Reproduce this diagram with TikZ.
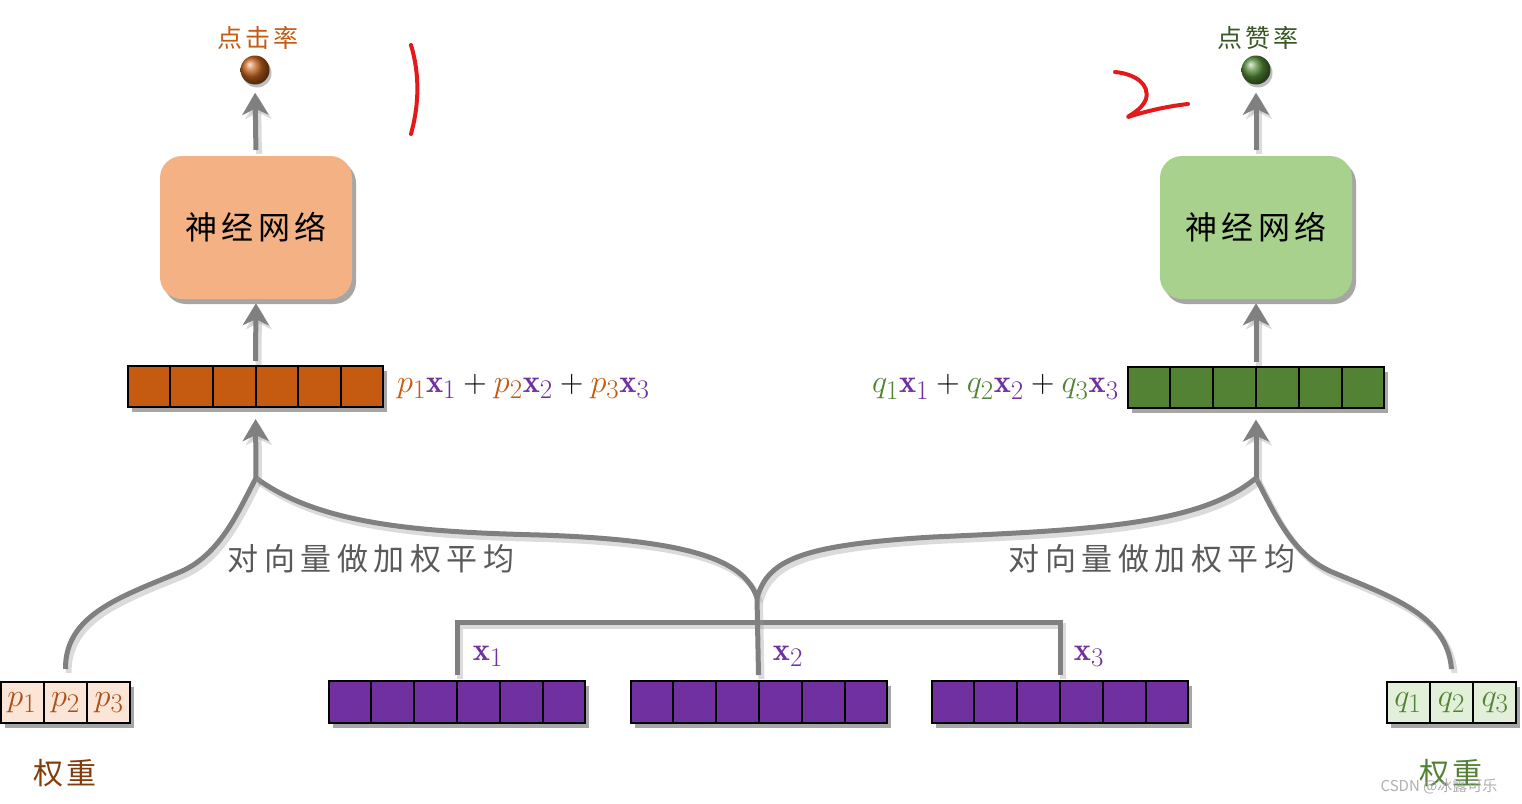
\RequirePackage{fix-cm}
\documentclass[tikz,border=0pt]{standalone}
\usepackage{graphicx}
\usepackage{fontspec}
\newfontfamily\cjk{Noto Sans CJK SC}
\usetikzlibrary{shadows,arrows.meta,calc}
\newcommand{\bigmath}[1]{\scalebox{1.3}{$#1$}}
\definecolor{orangevec}{HTML}{C55A11}
\definecolor{greenvec}{HTML}{548235}
\definecolor{purplevec}{HTML}{7030A0}
\definecolor{nnorange}{HTML}{F4B183}
\definecolor{nngreen}{HTML}{A9D18E}
\definecolor{linegray}{HTML}{808080}
\definecolor{textgray}{HTML}{595959}
\definecolor{pfill}{HTML}{FBE5D6}
\definecolor{qfill}{HTML}{E2F0D9}
\definecolor{pcol}{HTML}{C55A11}
\definecolor{pdark}{HTML}{A9501A}
\definecolor{wlabel}{HTML}{843C0C}
\definecolor{darkgreen}{HTML}{385723}
\definecolor{ballbrown}{HTML}{C2601C}
\definecolor{ballgreen}{HTML}{558A38}
\definecolor{redmark}{HTML}{E31A1C}
\definecolor{wmgray}{HTML}{A6A6A6}
\begin{document}
\begin{tikzpicture}[x=1pt,y=-1pt,
  lineshadow/.style={preaction={draw=black!40, opacity=.35, line width=6pt, transform canvas={xshift=3pt,yshift=-4pt}}},
  gline/.style={draw=linegray, line width=5pt, lineshadow},
  garrow/.style={gline, -{Stealth[length=22pt,width=26pt,inset=6pt]}},
  nnbox/.style={rounded corners=22pt, minimum width=192pt, minimum height=143pt, inner sep=0pt,
     drop shadow={shadow xshift=4pt, shadow yshift=-5pt, opacity=.35, fill=black}},
  vecbox/.style={draw=black, line width=2pt, minimum height=41pt, inner sep=0pt,
     drop shadow={shadow xshift=4pt, shadow yshift=-5pt, opacity=.35, fill=black}},
  ball/.style={circle, minimum size=29pt, inner sep=0pt, shade, shading=ball,
     drop shadow={shadow xshift=2pt, shadow yshift=-3pt, opacity=.25, fill=black}},
  cjklabel/.style={font=\cjk\fontsize{25}{30}\selectfont\addfontfeature{LetterSpace=12}},
  nntext/.style={font=\cjk\fontsize{32}{38}\selectfont\addfontfeature{LetterSpace=13}},
  avgtext/.style={font=\cjk\fontsize{31}{36}\selectfont\addfontfeature{LetterSpace=18}, text=textgray},
  wtext/.style={font=\cjk\fontsize{30}{36}\selectfont\addfontfeature{LetterSpace=13}},
  mathtext/.style={font=\fontsize{24.88}{30}\selectfont, inner sep=0pt},
  redline/.style={draw=redmark, line width=4pt, line cap=round, line join=round}
]
\useasboundingbox (0,0) rectangle (1522,803);

% outputs
\node[ball, ball color=ballbrown] (o1) at (255,70) {};
\node[ball, ball color=ballgreen] (o2) at (1256,70) {};
\node[cjklabel, text=pcol] (l1) at (258,38) {点击率};
\node[cjklabel, text=darkgreen] (l2) at (1258,38) {点赞率};

% neural nets
\node[nnbox, fill=nnorange, nntext] (nn1) at (256,227.5) {神经网络};
\node[nnbox, fill=nngreen, nntext] (nn2) at (1256,227.5) {神经网络};

% pooled vectors
\node[vecbox, fill=orangevec, minimum width=255pt] (v1) at (255.5,386.5) {};
\node[vecbox, fill=greenvec, minimum width=256pt] (v2) at (1256,387) {};
\foreach \v in {v1,v2}{
  \foreach \i in {1,...,5}{
    \draw[line width=2pt] ($(\v.north west)!\i/6!(\v.north east)$) -- ($(\v.south west)!\i/6!(\v.south east)$);
  }
}
\node[mathtext, anchor=west] (f1) at ([xshift=13pt]v1.east)
  {\bigmath{{\color{pcol}p_1}{\color{purplevec}\mathbf{x}_1}+{\color{pcol}p_2}{\color{purplevec}\mathbf{x}_2}+{\color{pcol}p_3}{\color{purplevec}\mathbf{x}_3}}};
\node[mathtext, anchor=east] (f2) at ([xshift=-8pt]v2.west)
  {\bigmath{{\color{greenvec}q_1}{\color{purplevec}\mathbf{x}_1}+{\color{greenvec}q_2}{\color{purplevec}\mathbf{x}_2}+{\color{greenvec}q_3}{\color{purplevec}\mathbf{x}_3}}};

% input vectors
\node[vecbox, fill=purplevec, minimum width=256pt, minimum height=42pt] (x1v) at (457,702) {};
\node[vecbox, fill=purplevec, minimum width=256pt, minimum height=42pt] (x2v) at (758.5,702) {};
\node[vecbox, fill=purplevec, minimum width=256pt, minimum height=42pt] (x3v) at (1060,702) {};
\foreach \v in {x1v,x2v,x3v}{
  \foreach \i in {1,...,5}{
    \draw[line width=2pt] ($(\v.north west)!\i/6!(\v.north east)$) -- ($(\v.south west)!\i/6!(\v.south east)$);
  }
}
\node[mathtext, text=purplevec] (lx1) at (488,656) {\bigmath{\mathbf{x}_1}};
\node[mathtext, text=purplevec] (lx2) at (788,656) {\bigmath{\mathbf{x}_2}};
\node[mathtext, text=purplevec] (lx3) at (1089,656) {\bigmath{\mathbf{x}_3}};

% weight boxes
\node[vecbox, fill=pfill, minimum width=129pt] (pw) at (65.5,702.5) {};
\node[vecbox, fill=qfill, minimum width=129pt] (qw) at (1451.5,702.5) {};
\foreach \v in {pw,qw}{
  \foreach \i in {1,2}{
    \draw[line width=2pt] ($(\v.north west)!\i/3!(\v.north east)$) -- ($(\v.south west)!\i/3!(\v.south east)$);
  }
}
\foreach \i/\f in {1/1,2/3,3/5}{
  \node[mathtext, text=pdark] (p\i) at ($(pw.west)!\f/6!(pw.east)$) {\bigmath{p_{\i}}};
  \node[mathtext, text=greenvec] (q\i) at ($(qw.west)!\f/6!(qw.east)$) {\bigmath{q_{\i}}};
}
\node[wtext, text=wlabel] (w1) at (65,773) {权重};
\node[wtext, text=greenvec] (w2) at (1451,773) {权重};

% averaging labels
\node[avgtext] (a1) at (371,559) {对向量做加权平均};
\node[avgtext] (a2) at (1152,559) {对向量做加权平均};

% connectors
\coordinate (jl) at (256,478);
\coordinate (jr) at (1256,478);
\coordinate (jc) at (757,598);

\draw[gline] ([yshift=12pt]pw.north) .. controls (65,615) and (120,597) .. (180,572)
  .. controls (220,555) and (238,512) .. (jl);
\draw[gline] (jl) .. controls (320,525) and (420,532) .. (540,535)
  .. controls (690,540) and (745,560) .. (jc);
\draw[gline] (jc) .. controls (768,560) and (800,545) .. (933,537)
  .. controls (1090,530) and (1200,525) .. (jr);
\draw[gline] (jr) .. controls (1274,512) and (1292,555) .. (1332,572)
  .. controls (1392,597) and (1447,615) .. ([yshift=12pt]qw.north);

\draw[gline] ([yshift=5pt]x1v.north) -- ++(0,-53) -| ([yshift=5pt]x3v.north);
\draw[gline] (jc) -- ([yshift=5pt]x2v.north);

\draw[garrow, shorten >=11pt] (jl) -- (v1.south);
\draw[garrow, shorten >=11pt] (jr) -- (v2.south);
\draw[garrow, shorten <=4pt, shorten >=4pt] (v1.north) -- (nn1.south);
\draw[garrow, shorten <=4pt, shorten >=4pt] (v2.north) -- (nn2.south);
\draw[garrow, shorten <=6pt, shorten >=8pt] (nn1.north) -- (o1.south);
\draw[garrow, shorten <=6pt, shorten >=8pt] (nn2.north) -- (o2.south);

% red handwritten marks
\draw[redline] (411,45) .. controls (420,75) and (419,105) .. (411,134);
\draw[redline] (1115,72) .. controls (1135,74) and (1150,84) .. (1146,99)
  .. controls (1142,110) and (1128,116) .. (1128,117)
  .. controls (1150,110) and (1170,106) .. (1188,104);

% watermark
\node[font=\cjk\fontsize{15}{18}\selectfont, text=wmgray, opacity=.9] (wm) at (1439,786) {CSDN @冰露可乐};
\end{tikzpicture}
\end{document}
